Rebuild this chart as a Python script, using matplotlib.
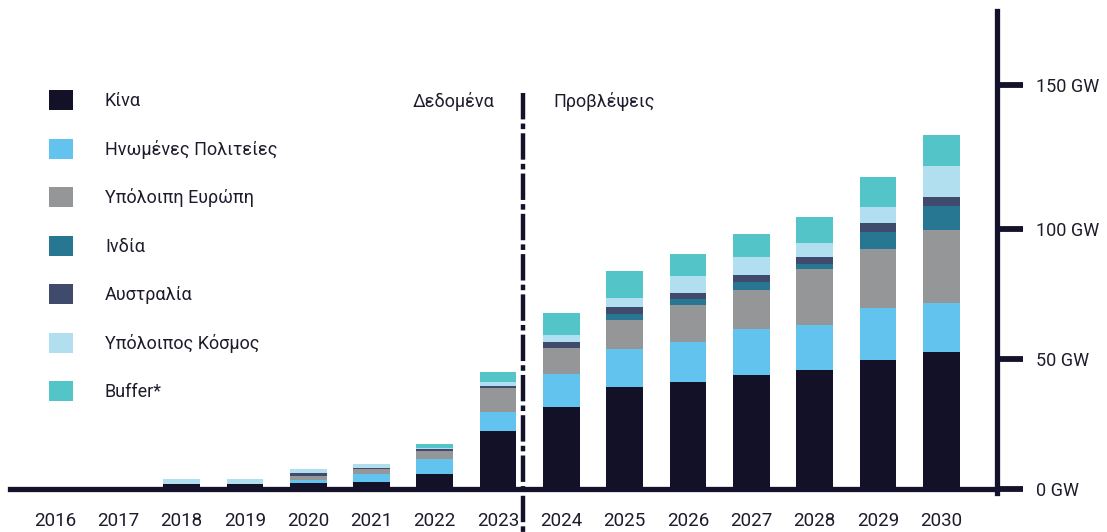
import matplotlib
matplotlib.use("Agg")
import matplotlib.pyplot as plt
import numpy as np

plt.rcParams["font.family"] = ["Roboto", "DejaVu Sans"]
plt.rcParams["lines.scale_dashes"] = False

# ── data (GW) ─────────────────────────────────────────────────────────────────
years = ["2016", "2017", "2018", "2019", "2020", "2021", "2022", "2023",
         "2024", "2025", "2026", "2027", "2028", "2029", "2030"]

china     = [0, 0, 1.9, 1.9, 2.3, 2.7, 5.8, 22.3, 31.5, 39.2, 41.1, 43.8, 45.7, 49.5, 52.6]
usa       = [0, 0, 0.0, 0.0, 1.2, 3.1, 5.7, 7.3, 12.6, 14.5, 15.3, 17.6, 17.3, 20.0, 18.8]
europe    = [0, 0, 0.0, 0.0, 1.5, 1.9, 3.1, 9.2, 10.0, 11.2, 14.2, 15.0, 21.5, 22.6, 28.0]
india     = [0, 0, 0.0, 0.0, 0.0, 0.0, 0.0, 0.0, 0.0, 2.3, 2.3, 3.1, 1.9, 6.6, 9.2]
australia = [0, 0, 0.0, 0.0, 1.1, 0.4, 0.8, 0.7, 2.3, 2.7, 2.3, 2.6, 2.7, 3.4, 3.5]
rest      = [0, 0, 1.9, 1.9, 1.6, 1.5, 0.3, 1.6, 2.7, 3.4, 6.6, 7.0, 5.3, 6.2, 11.9]
buffer    = [0, 0, 0.0, 0.0, 0.0, 0.0, 1.6, 3.8, 8.4, 10.4, 8.4, 8.8, 10.0, 11.5, 11.9]

series = [
    ("Κίνα",                china,     "#121127"),
    ("Ηνωμένες Πολιτείες",  usa,       "#62c3ee"),
    ("Υπόλοιπη Ευρώπη",     europe,    "#959697"),
    ("Ινδία",               india,     "#277793"),
    ("Αυστραλία",           australia, "#404a6c"),
    ("Υπόλοιπος Κόσμος",    rest,      "#b1dff0"),
    ("Buffer*",             buffer,    "#53c4c7"),
]

tick_vals   = [0, 50, 100, 155]
tick_labels = ["0 GW", "50 GW", "100 GW", "150 GW"]

INK  = "#13122a"
TEXT = "#1c1c2c"

# ── canvas: axes fills the figure, limits chosen to set pixel scale ───────────
W, H = 1107, 532
fig = plt.figure(figsize=(W / 100, H / 100), dpi=100)
ax = fig.add_axes([0, 0, 1, 1])

X0, DX = 55, 63.3        # pixel of first bar, pixels per category
Y0, DY = 489, 2.605      # pixel of 0 GW, pixels per GW
ax.set_xlim(-X0 / DX, (W - X0) / DX)
ax.set_ylim(-(H - Y0) / DY, Y0 / DY)

x = np.arange(len(years))
bottom = np.zeros(len(years))
for name, vals, col in series:
    ax.bar(x, vals, width=0.58, bottom=bottom, color=col, label=name,
           linewidth=0, zorder=2)
    bottom += np.array(vals)

# ── axes styling ──────────────────────────────────────────────────────────────
for s in ("top", "left"):
    ax.spines[s].set_visible(False)

x_right = (997 - X0) / DX
ax.spines["bottom"].set_position(("data", 0))
ax.spines["bottom"].set_bounds((10 - X0) / DX, x_right)
ax.spines["right"].set_position(("data", x_right))
ax.spines["right"].set_bounds(-1.5, (Y0 - 11) / DY)
for s in ("bottom", "right"):
    ax.spines[s].set_linewidth(3.8)
    ax.spines[s].set_color(INK)
    ax.spines[s].set_zorder(3)

ax.yaxis.tick_right()
ax.set_yticks(tick_vals, tick_labels)
ax.tick_params(axis="y", direction="out", length=19, width=4.2, color=INK,
               pad=9, labelsize=13, labelcolor=TEXT)

ax.set_xticks(x, years)
ax.tick_params(axis="x", length=0, pad=16.5, labelsize=13.5, labelcolor=TEXT)

# ── data / forecast divider ───────────────────────────────────────────────────
x_div = 7.4
ax.plot([x_div, x_div], [(Y0 - 93) / DY, -(H - Y0) / DY], color=INK, lw=3.2,
        dashes=(19, 3, 4, 3), solid_capstyle="butt", zorder=4, clip_on=False)
ax.text(6.95, 148.6, "Δεδομένα", ha="right", va="center",
        fontsize=13, color=TEXT)
ax.text(7.87, 148.6, "Προβλέψεις", ha="left", va="center",
        fontsize=13, color=TEXT)

# ── legend ────────────────────────────────────────────────────────────────────
fs = 13
px = fs * 100 / 72
ax.legend(loc="upper left", bbox_to_anchor=(49 / W, 1 - 90 / H),
          bbox_transform=fig.transFigure, frameon=False, fontsize=fs,
          handlelength=24 / px, handleheight=24 / px,
          labelspacing=28.5 / px, handletextpad=32 / px,
          borderpad=0, borderaxespad=0, labelcolor=TEXT)

fig.savefig("out.png", dpi=100, facecolor="white")
plt.close(fig)
